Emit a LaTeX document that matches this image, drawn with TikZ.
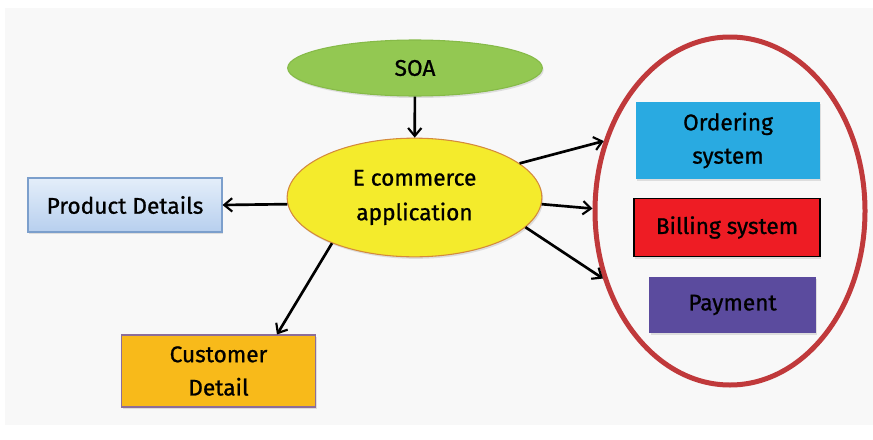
\documentclass[tikz,border=0pt]{standalone}
\usepackage{fontspec}
\setmainfont{Fira Sans}[RawFeature={embolden=0.9}]
\usetikzlibrary{shapes.geometric,arrows.meta,shadows}

\definecolor{panel}{HTML}{F8F8F8}
\definecolor{soagreen}{HTML}{93C852}
\definecolor{soaedge}{HTML}{86BA48}
\definecolor{ecomyellow}{HTML}{F4EB2C}
\definecolor{ecomedge}{HTML}{D48A3C}
\definecolor{prodtop}{HTML}{E4EEFA}
\definecolor{prodbot}{HTML}{B7CFEE}
\definecolor{prodedge}{HTML}{7C9FCC}
\definecolor{custorange}{HTML}{F8BA1A}
\definecolor{custedge}{HTML}{8D6E99}
\definecolor{ordercyan}{HTML}{29AAE1}
\definecolor{billred}{HTML}{EE1C24}
\definecolor{paypurple}{HTML}{5B4B9E}
\definecolor{groupred}{HTML}{C0393B}

\tikzset{
  arr/.style={line width=2pt,-{Straight Barb[length=6pt,width=10pt,line width=1.6pt]}},
  shad/.style={drop shadow={opacity=0.22,shadow xshift=1pt,shadow yshift=-1.5pt}},
  box/.style={rectangle,shad,inner sep=2pt,align=center,font=\fontsize{17}{25}\selectfont},
  oval/.style={ellipse,shad,line width=0.8pt,inner sep=0pt,align=center,font=\fontsize{17}{26}\selectfont}
}

\begin{document}
\begin{tikzpicture}[x=0.75pt,y=-0.75pt]
\useasboundingbox (0,0) rectangle (873,439);
% 背景
\fill[white] (0,0) rectangle (873,439);
\fill[panel] (5,8) rectangle (873,425);

% 右侧大椭圆
\node[ellipse,draw=groupred,line width=3.75pt,minimum width=202.5pt,minimum height=261pt] (group) at (730,211) {};

% 椭圆节点
\node[oval,fill=soagreen,draw=soaedge,minimum width=191pt,minimum height=42pt] (soa) at (415,68) {SOA};
\node[oval,fill=ecomyellow,draw=ecomedge,minimum width=191pt,minimum height=89pt] (ecom) at (414.5,197.5) {E commerce\\application};

% 左侧方框
\node[box,top color=prodtop,bottom color=prodbot,draw=prodedge,line width=0.8pt,minimum width=145.5pt,minimum height=40.5pt] (prod) at (125,205) {Product Details};
\node[box,fill=custorange,draw=custedge,line width=0.8pt,minimum width=145pt,minimum height=54pt] (cust) at (218.5,371) {Customer\\Detail};

% 右侧方框
\node[box,fill=ordercyan,minimum width=138pt,minimum height=58pt] (order) at (728,140.5) {Ordering\\system};
\node[box,fill=billred,draw=black,line width=0.8pt,minimum width=139.5pt,minimum height=44pt] (bill) at (727,227.5) {Billing system};
\node[box,fill=paypurple,minimum width=125pt,minimum height=42pt] (pay) at (732.5,305) {Payment};

% 箭头
\draw[arr] (soa) -- (ecom);
\draw[arr] (ecom.183) -- (prod.east);
\draw[arr] (ecom.209) -- (cust.32);
\draw[arr] (ecom.18) -- (group.151);
\draw[arr] (ecom.-3) -- (group.179);
\draw[arr] (ecom.-15) -- (group.208);
\end{tikzpicture}
\end{document}
